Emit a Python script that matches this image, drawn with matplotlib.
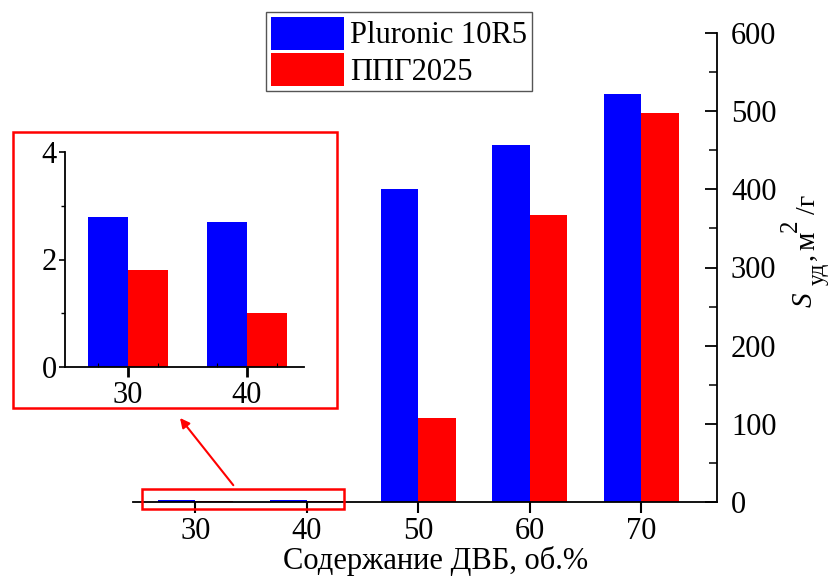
import matplotlib
matplotlib.use("Agg")
import matplotlib.pyplot as plt
from matplotlib.patches import Rectangle, Patch
from matplotlib.ticker import MultipleLocator, FixedLocator
import numpy as np

plt.rcParams['font.family'] = ['Liberation Serif', 'DejaVu Serif']

# DVB content, vol.%
dvb = [30, 40, 50, 60, 70]
pluronic = [2.8, 2.7, 400, 457, 522]
ppg = [1.8, 1.0, 107, 367, 498]

# inset (zoom on the low-DVB samples)
dvb_small = [30, 40]
pluronic_small = [2.8, 2.7]
ppg_small = [1.8, 1.0]

BLUE = '#0000ff'
RED = '#ff0000'
W = 3.35
FS = 22
FIG_W, FIG_H = 837, 576


def fx(px):
    return px / FIG_W


def fy(py):
    return 1 - py / FIG_H


fig = plt.figure(figsize=(8.37, 5.76), dpi=100)
ax = fig.add_axes([fx(133), fy(502), fx(717) - fx(133), fy(33) - fy(502)])

x = np.array(dvb, dtype=float)
ax.bar(x - W / 2, pluronic, width=W, color=BLUE, label='Pluronic 10R5')
ax.bar(x + W / 2, ppg, width=W, color=RED, label='ППГ2025')

ax.set_xlim(24.4, 76.8)
ax.set_ylim(0, 600)
ax.spines['left'].set_visible(False)
ax.spines['top'].set_visible(False)
for s in ('right', 'bottom'):
    ax.spines[s].set_linewidth(1.3)
ax.yaxis.tick_right()
ax.set_yticks(range(0, 601, 100))
ax.yaxis.set_minor_locator(MultipleLocator(50))
ax.set_xticks(dvb)
ax.tick_params(axis='y', which='major', direction='in', length=9, width=1.3,
               labelsize=FS, pad=10)
ax.tick_params(axis='y', which='minor', direction='in', length=6, width=1.1)
ax.tick_params(axis='x', which='major', direction='out', length=8, width=1.5,
               labelsize=FS, pad=3)
ax.set_xlabel('Содержание ДВБ, об.%', fontsize=FS, va='baseline')
ax.xaxis.set_label_coords((436 - 133) / (717 - 133), (502 - 569) / (502 - 33))

# y-axis title: S_уд, м²/г, assembled from pieces
ylab = [
    ('S', 812, 307, 21, 'italic'),
    ('уд', 824, 285, 17, 'normal'),
    (',', 813, 260, 20, 'normal'),
    ('м', 814, 250, 21, 'normal'),
    ('2', 797, 232, 18, 'normal'),
    ('/г', 815, 214, 20, 'normal'),
]
for txt, px, py, size, style in ylab:
    fig.text(fx(px), fy(py), txt, fontsize=size, style=style, rotation=90,
             rotation_mode='anchor', ha='left', va='baseline')

# highlight box around the small bars
ax.add_patch(Rectangle((25.2, -9), 18.1, 25.6, fill=False, edgecolor=RED,
                       lw=1.8, clip_on=False, zorder=5))
ax.annotate('', xy=(fx(180), fy(418)), xycoords='figure fraction',
            xytext=(33.4, 21.5), textcoords='data',
            arrowprops=dict(arrowstyle='-|>', color=RED, lw=1.5,
                            mutation_scale=14, shrinkA=0, shrinkB=0))

# inset frame
fig.add_artist(Rectangle((fx(13), fy(408)), 324 / FIG_W, 276 / FIG_H,
                         transform=fig.transFigure, fill=False,
                         edgecolor=RED, lw=1.8))

ins = fig.add_axes([fx(65), fy(367), 239 / FIG_W, 215 / FIG_H])
xs = np.array(dvb_small, dtype=float)
ins.bar(xs - W / 2, pluronic_small, width=W, color=BLUE)
ins.bar(xs + W / 2, ppg_small, width=W, color=RED)
ins.set_xlim(24.7, 44.8)
ins.set_ylim(0, 4)
ins.spines['top'].set_visible(False)
ins.spines['right'].set_visible(False)
for s in ('left', 'bottom'):
    ins.spines[s].set_linewidth(1.3)
ins.patch.set_alpha(0)
ins.set_yticks([0, 2, 4])
ins.yaxis.set_minor_locator(MultipleLocator(1))
ins.set_xticks(dvb_small)
ins.xaxis.set_minor_locator(FixedLocator([27.5, 32.5, 37.5, 42.5]))
ins.tick_params(axis='y', which='major', direction='out', length=4, width=1.2,
                labelsize=FS, pad=2)
ins.tick_params(axis='y', which='minor', direction='out', length=3, width=1.0)
ins.tick_params(axis='x', which='major', direction='out', length=7, width=2.0,
                labelsize=FS, pad=3)
ins.tick_params(axis='x', which='minor', direction='in', length=3, width=0.8)

handles = [Patch(facecolor=BLUE, edgecolor='none'), Patch(facecolor=RED, edgecolor='none')]
fig.legend(handles, ['Pluronic 10R5', 'ППГ2025'], loc='upper left',
           bbox_to_anchor=(fx(266), fy(12)), fontsize=FS,
           frameon=True, fancybox=False, edgecolor='#555555', framealpha=1,
           handlelength=2.4, handleheight=1.3, handletextpad=0.2,
           labelspacing=0.08, borderpad=0.15, borderaxespad=0)

fig.savefig('out.png', dpi=100)
